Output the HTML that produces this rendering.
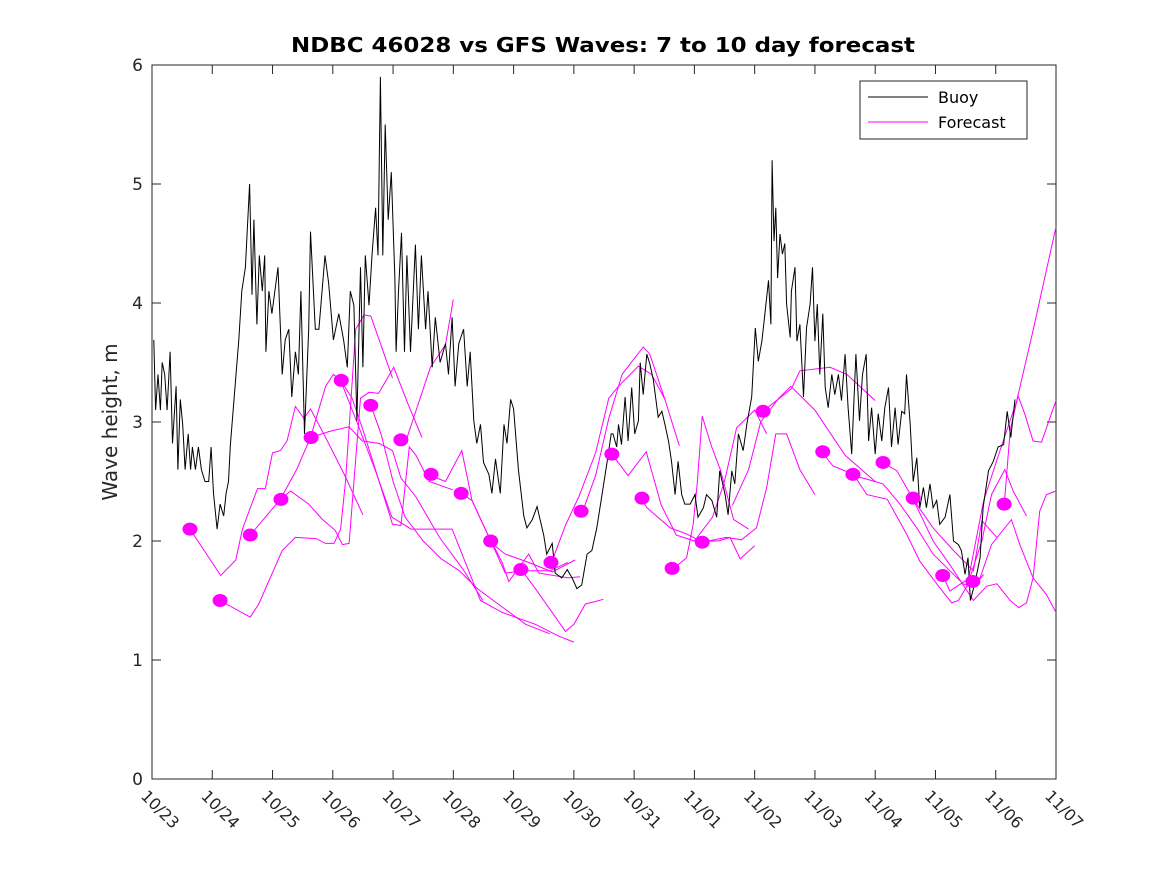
<!DOCTYPE html>
<html><head><meta charset="utf-8"><style>
html,body{margin:0;padding:0;background:#fff;}
svg{display:block;font-family:"DejaVu Sans","Liberation Sans",sans-serif;}
</style></head><body>
<svg id="chart" width="1167" height="875" viewBox="0 0 1167 875">
<rect x="0" y="0" width="1167" height="875" fill="#fff"/>
<rect x="152" y="65" width="904" height="714" fill="#fff" stroke="#262626" stroke-width="1"/>
<text x="603" y="52" text-anchor="middle" font-size="20" font-weight="bold" fill="#000" textLength="624" lengthAdjust="spacingAndGlyphs">NDBC 46028 vs GFS Waves: 7 to 10 day forecast</text>
<text x="0" y="0" transform="translate(117,422) rotate(-90)" text-anchor="middle" font-size="20" fill="#262626">Wave height, m</text>
<g id="ticks"></g>
<g id="forecasts"></g>
<g id="buoy"></g>
<g id="dots"></g>
<g>
<rect x="860" y="81" width="167" height="58" fill="#fff" stroke="#262626" stroke-width="1"/>
<line x1="868" y1="97" x2="928" y2="97" stroke="#000" stroke-width="1"/>
<text x="938" y="103" font-size="16" fill="#000">Buoy</text>
<line x1="868" y1="122" x2="928" y2="122" stroke="#ff00ff" stroke-width="1"/>
<text x="938" y="128" font-size="16" fill="#000">Forecast</text>
</g>
</svg>
<script>
const xTickLabels = ["10/23","10/24","10/25","10/26","10/27","10/28","10/29","10/30","10/31","11/01","11/02","11/03","11/04","11/05","11/06","11/07"];
const yTicks = [0,1,2,3,4,5,6];
const buoyDays = [0.03,0.06,0.10,0.14,0.17,0.21,0.25,0.30,0.34,0.40,0.43,0.47,0.51,0.55,0.60,0.64,0.67,0.72,0.77,0.82,0.88,0.94,0.98,1.02,1.08,1.13,1.19,1.23,1.27,1.30,1.44,1.49,1.55,1.62,1.66,1.69,1.74,1.78,1.83,1.87,1.89,1.94,1.99,2.09,2.16,2.21,2.27,2.32,2.38,2.43,2.47,2.53,2.60,2.63,2.71,2.77,2.87,2.93,3.01,3.10,3.18,3.24,3.29,3.35,3.40,3.46,3.50,3.54,3.60,3.65,3.71,3.75,3.79,3.83,3.87,3.92,3.97,4.03,4.05,4.09,4.14,4.19,4.23,4.29,4.37,4.42,4.47,4.54,4.58,4.65,4.70,4.78,4.87,4.92,4.98,5.03,5.09,5.17,5.23,5.28,5.34,5.39,5.45,5.50,5.59,5.64,5.70,5.78,5.84,5.89,5.95,6.00,6.08,6.17,6.22,6.31,6.39,6.44,6.50,6.55,6.64,6.69,6.80,6.89,6.97,7.05,7.13,7.22,7.30,7.38,7.47,7.55,7.62,
7.65,7.71,7.74,7.79,7.85,7.90,7.96,8.01,8.07,8.10,8.15,8.21,8.26,8.32,8.40,8.46,8.51,8.57,8.62,8.68,8.73,8.79,8.84,8.93,9.01,9.06,9.15,9.20,9.29,9.37,9.42,9.51,9.56,9.62,9.67,9.73,9.81,9.87,9.95,10.01,10.06,10.12,10.17,10.23,10.27,10.29,10.32,10.35,10.38,10.42,10.46,10.50,10.53,10.59,10.61,10.67,10.70,10.75,10.81,10.86,10.92,10.96,11.00,11.04,11.08,11.13,11.17,11.22,11.28,11.33,11.39,11.44,11.50,11.55,11.61,11.68,11.74,11.79,11.85,11.89,11.94,12.00,12.05,12.11,12.16,12.22,12.27,12.33,12.38,12.44,12.49,12.52,12.58,12.63,12.69,12.74,12.80,12.85,12.91,12.96,13.02,13.07,13.16,13.24,13.30,13.38,13.43,13.49,13.54,13.58,13.66,13.74,13.79,13.88,13.96,14.04,14.13,14.19,14.25,14.32];
const buoyVals = [3.69,3.1,3.4,3.1,3.5,3.4,3.1,3.59,2.82,3.3,2.6,3.19,2.98,2.6,2.9,2.6,2.79,2.6,2.79,2.6,2.5,2.5,2.79,2.4,2.1,2.31,2.21,2.4,2.5,2.8,3.69,4.1,4.3,5.0,4.07,4.7,3.82,4.4,4.1,4.4,3.59,4.1,3.91,4.3,3.4,3.69,3.78,3.21,3.59,3.4,4.1,2.9,3.78,4.6,3.78,3.78,4.4,4.17,3.69,3.91,3.69,3.46,4.1,3.98,3.01,4.3,3.46,4.4,3.98,4.4,4.8,4.4,5.9,4.4,5.5,4.7,5.1,4.2,3.59,4.1,4.59,3.59,4.4,3.59,4.49,3.78,4.4,3.78,4.1,3.46,3.88,3.5,3.66,3.4,3.88,3.3,3.66,3.78,3.3,3.59,3.01,2.82,2.98,2.66,2.56,2.4,2.69,2.4,2.98,2.82,3.19,3.11,2.6,2.21,2.11,2.18,2.29,2.18,2.05,1.89,1.98,1.73,1.69,1.76,1.69,1.6,1.63,1.89,1.92,2.11,2.4,2.66,2.9,
2.9,2.79,2.98,2.81,3.21,2.84,3.29,2.9,3.01,3.5,3.23,3.57,3.49,3.35,3.04,3.09,2.98,2.84,2.67,2.39,2.67,2.39,2.31,2.31,2.39,2.2,2.28,2.39,2.34,2.2,2.59,2.39,2.22,2.59,2.48,2.9,2.76,2.98,3.21,3.79,3.51,3.68,3.91,4.19,3.82,5.2,4.52,4.8,4.21,4.58,4.41,4.5,3.99,3.71,4.1,4.3,3.68,3.82,3.21,3.79,3.99,4.3,3.68,3.99,3.4,3.91,3.29,3.12,3.4,3.23,3.4,3.18,3.57,3.12,2.73,3.57,3.01,3.4,3.57,2.84,3.12,2.73,3.07,2.84,3.12,3.29,2.79,3.12,2.81,3.09,3.07,3.4,2.98,2.5,2.7,2.28,2.45,2.28,2.48,2.28,2.34,2.14,2.2,2.39,2.0,1.97,1.92,1.72,1.86,1.5,1.66,1.86,2.28,2.59,2.67,2.79,2.81,3.09,2.87,3.19];
const dotDays = [0.63,1.13,1.63,2.14,2.64,3.14,3.63,4.13,4.63,5.13,5.62,6.12,6.62,7.12,7.63,8.13,8.63,9.13,10.14,11.13,11.63,12.13,12.63,13.12,13.62,14.14];
const dotVals = [2.1,1.5,2.05,2.35,2.87,3.35,3.14,2.85,2.56,2.4,2.0,1.76,1.82,2.25,2.73,2.36,1.77,1.99,3.09,2.75,2.56,2.66,2.36,1.71,1.66,2.31];
const fcDays = [
[0.63,1.14,1.39,1.5,1.75,1.88,2.0,2.13,2.24,2.38,2.52,2.63,2.88,3.19,3.5],
[1.13,1.63,1.77,2.16,2.38,2.72,2.88,3.02,3.13,3.21,3.38,3.52,3.63,3.99],
[1.63,2.13,2.3,2.6,2.83,3.04,3.16,3.27,3.46,3.6,3.76,4.01,4.25,4.48],
[2.13,2.4,2.63,2.94,3.27,3.49,3.77,3.99,4.13,4.38,4.77,5.15,5.49],
[2.63,2.88,3.01,3.13,3.32,3.49,3.77,3.99,4.13,4.27,4.38,4.6,4.99],
[3.13,3.4,3.7,3.98,4.3,4.6,4.98,5.45,5.81,6.36,6.75,7.0],
[3.63,3.8,4.0,4.2,4.5,4.8,5.1,5.4,5.8,6.2,6.6],
[4.12,4.2,4.37,4.62,4.87,5.0],
[4.62,4.87,5.14,5.31,5.64,5.86,6.2,6.6,6.9],
[5.13,5.31,5.64,5.86,6.25,6.64,7.02],
[5.63,5.81,5.92,6.25,6.42,6.91,7.1],
[6.13,6.36,6.64,6.86,7.0,7.19,7.49],
[6.63,6.86,7.08,7.36,7.58,7.74,8.07,8.29,8.51],
[7.14,7.36,7.58,7.8,8.15,8.26,8.51,8.75],
[7.63,7.9,8.2,8.45,8.7,9.0,9.3,9.5,9.7,10.0,10.2],
[8.13,8.21,8.6,8.87,9.1,9.4,9.59,9.76,10.0],
[8.63,8.87,8.98,9.05,9.13,9.28,9.43,9.65,9.9],
[9.13,9.53,9.78,10.03,10.2,10.35,10.53,10.75,11.0],
[10.14,10.61,10.75,11.25,11.53,12.0],
[9.63,9.9,10.1,10.4,10.6,11.0,11.5,12.0],
[11.13,11.3,11.64,11.86,12.2,12.52,12.74,13.02,13.27,13.38,13.57],
[11.63,11.86,12.13,12.41,12.69,12.96,13.3,13.46,13.63,13.8],
[12.13,12.36,12.63,12.96,13.3,13.63,13.77,14.02],
[12.63,12.96,13.24,13.63,13.85,14.02,14.24,14.38,14.51,14.62,14.73,14.84,15.0],
[13.12,13.24,13.57,13.77,13.93,14.15,14.29,14.51],
[13.62,13.74,13.93,14.26,14.4,14.62,14.84,15.0],
[14.14,14.24,14.37,14.48,14.62,14.76,15.0],
[13.52,13.8,14.07,14.35,14.62,15.0]];
const fcVals = [
[2.1,1.71,1.84,2.1,2.44,2.44,2.74,2.76,2.84,3.13,3.03,3.11,2.87,2.56,2.22],
[1.5,1.36,1.47,1.92,2.03,2.02,1.98,1.98,2.1,2.5,3.78,3.9,3.89,3.37],
[2.05,2.35,2.42,2.31,2.18,2.09,1.97,1.98,3.2,3.25,3.24,3.46,3.15,2.87],
[2.35,2.6,2.87,2.92,2.96,2.84,2.82,2.76,2.53,2.37,2.03,1.77,1.5],
[2.87,3.3,3.4,3.35,3.2,2.95,2.5,2.14,2.13,2.79,2.72,2.5,2.43],
[3.35,3.0,2.6,2.2,2.1,2.1,2.1,1.5,1.4,1.3,1.2,1.15],
[3.14,2.9,2.5,2.2,2.0,1.85,1.75,1.6,1.45,1.3,1.22],
[2.85,2.82,3.08,3.46,3.65,4.03],
[2.55,2.5,2.76,2.34,1.98,1.73,1.75,1.75,1.82],
[2.4,2.34,1.98,1.89,1.82,1.74,1.84],
[2.0,1.82,1.66,1.89,1.73,1.69,1.7],
[1.76,1.6,1.4,1.24,1.3,1.47,1.51],
[1.82,2.13,2.37,2.74,3.2,3.3,3.47,3.4,3.19],
[2.24,2.55,3.03,3.4,3.63,3.57,3.19,2.8],
[2.73,2.55,2.75,2.3,2.05,2.0,2.2,2.5,2.95,3.1,2.9],
[2.35,2.28,2.11,2.06,2.0,2.0,2.03,1.85,1.96],
[1.76,1.86,2.14,2.5,3.05,2.8,2.6,2.18,2.1],
[1.99,2.03,2.01,2.11,2.45,2.9,2.9,2.6,2.39],
[3.09,3.28,3.43,3.46,3.4,3.18],
[2.3,2.6,3.0,3.2,3.3,3.1,2.72,2.5],
[2.74,2.63,2.56,2.39,2.35,2.06,1.83,1.64,1.48,1.5,1.66],
[2.55,2.52,2.48,2.31,2.11,1.89,1.72,1.64,1.61,1.72],
[2.66,2.59,2.35,2.11,1.92,1.75,2.17,2.03],
[2.35,2.0,1.8,1.5,1.62,1.64,1.5,1.44,1.48,1.69,2.25,2.39,2.42],
[1.71,1.58,1.69,2.0,2.39,2.6,2.42,2.21],
[1.65,1.69,1.97,2.18,1.97,1.69,1.55,1.4],
[2.3,2.93,3.22,3.07,2.84,2.83,3.18],
[1.61,2.34,2.76,3.18,3.77,4.64]];

const NS = "http://www.w3.org/2000/svg";
const X0 = 152, X1 = 1056, Y0 = 779, Y1 = 65, DMAX = 15, VMAX = 6;
function xs(d){ return X0 + (X1 - X0) * d / DMAX; }
function ys(v){ return Y0 - (Y0 - Y1) * v / VMAX; }
function mk(tag, parent){ const e = document.createElementNS(NS, tag); parent.appendChild(e); return e; }

const tg = document.getElementById('ticks');
xTickLabels.forEach(function(lab, i){
  const x = xs(i);
  const t1 = mk('line', tg);
  t1.setAttribute('x1', x); t1.setAttribute('x2', x); t1.setAttribute('y1', Y0); t1.setAttribute('y2', Y0 - 9);
  t1.setAttribute('stroke', '#262626');
  
  
  const t2 = mk('line', tg);
  t2.setAttribute('x1', x); t2.setAttribute('x2', x); t2.setAttribute('y1', Y1); t2.setAttribute('y2', Y1 + 9);
  t2.setAttribute('stroke', '#262626');
  
  
  const tx = mk('text', tg);
  tx.setAttribute('transform', 'translate(' + (x - 12) + ',' + 797 + ') rotate(45)');
  tx.setAttribute('font-size', '16');
  tx.setAttribute('fill', '#262626');
  tx.textContent = lab;
  
  
});
yTicks.forEach(function(v){
  const y = ys(v);
  const t1 = mk('line', tg);
  t1.setAttribute('x1', X0); t1.setAttribute('x2', X0 + 9); t1.setAttribute('y1', y); t1.setAttribute('y2', y);
  t1.setAttribute('stroke', '#262626');
  
  
  const t2 = mk('line', tg);
  t2.setAttribute('x1', X1); t2.setAttribute('x2', X1 - 9); t2.setAttribute('y1', y); t2.setAttribute('y2', y);
  t2.setAttribute('stroke', '#262626');
  
  
  const tx = mk('text', tg);
  tx.setAttribute('x', X0 - 9); tx.setAttribute('y', y + 6);
  tx.setAttribute('text-anchor', 'end');
  tx.setAttribute('font-size', '17');
  tx.setAttribute('fill', '#262626');
  tx.textContent = String(v);
  
  
});

const fg = document.getElementById('forecasts');
fcDays.forEach(function(ds, i){
  const vs = fcVals[i];
  const p = mk('polyline', fg);
  p.setAttribute('points', ds.map(function(d, j){ return xs(d).toFixed(1) + ',' + ys(vs[j]).toFixed(1); }).join(' '));
  p.setAttribute('fill', 'none');
  p.setAttribute('stroke', '#ff00ff');
  p.setAttribute('stroke-width', '1');
  
  
});

const bg = document.getElementById('buoy');
const bl = mk('polyline', bg);
bl.setAttribute('points', buoyDays.map(function(d, i){ return xs(d).toFixed(1) + ',' + ys(buoyVals[i]).toFixed(1); }).join(' '));
bl.setAttribute('fill', 'none');
bl.setAttribute('stroke', '#000');
bl.setAttribute('stroke-width', '1');



const dg = document.getElementById('dots');
dotDays.forEach(function(d, i){
  const c = mk('ellipse', dg);
  c.setAttribute('cx', xs(d)); c.setAttribute('cy', ys(dotVals[i]));
  c.setAttribute('rx', 7.5); c.setAttribute('ry', 6.5);
  c.setAttribute('fill', '#ff00ff');
  
  
});
</script>
</body></html>
